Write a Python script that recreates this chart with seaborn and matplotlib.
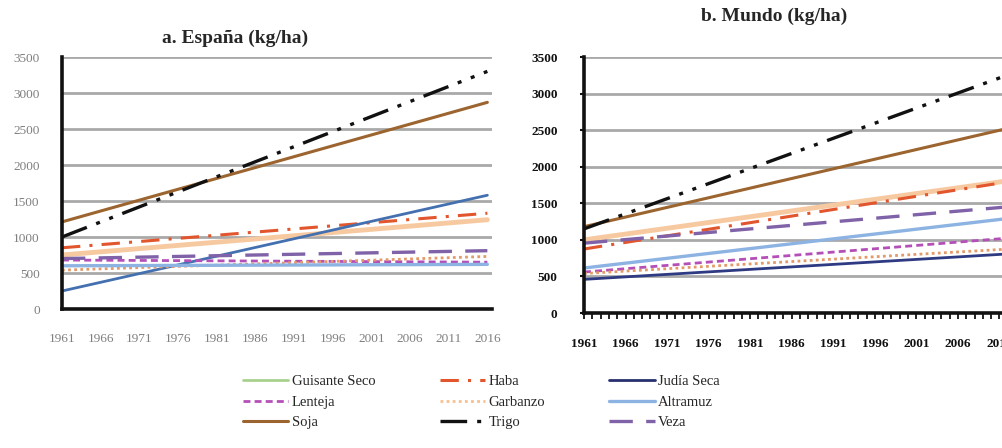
import matplotlib
matplotlib.use("Agg")
import matplotlib.pyplot as plt
from matplotlib.lines import Line2D
import seaborn as sns
import pandas as pd

# Trend endpoints (kg/ha) for each crop, first and last year of the period
years = [1961, 2016]
crops = ["Guisante Seco", "Haba", "Judía Seca", "Lenteja", "Garbanzo",
         "Altramuz", "Soja", "Trigo", "Veza"]
espana_1961 = [750, 850, 250, 680, 540, 600, 1210, 1000, 700]
espana_2016 = [1240, 1330, 1580, 650, 730, 620, 2870, 3300, 810]
mundo_1961 = [1000, 875, 460, 560, 540, 615, 1180, 1150, 955]
mundo_2016 = [1870, 1865, 835, 1060, 900, 1345, 2630, 3420, 1490]
tick_years = list(range(1961, 2017, 5))
y_ticks = [0, 500, 1000, 1500, 2000, 2500, 3000, 3500]

# line appearance per crop: plot colour, legend colour, dash pattern, width
line_color = {"Guisante Seco": "#f7c9a0", "Haba": "#e2562e", "Judía Seca": "#4470b0",
              "Lenteja": "#b44fb8", "Garbanzo": "#e39a68", "Altramuz": "#8db3e2",
              "Soja": "#9c6530", "Trigo": "#111111", "Veza": "#7f62a8"}
legend_color = dict(line_color, **{"Guisante Seco": "#a9d18e", "Judía Seca": "#27306e",
                                   "Garbanzo": "#f6c08f"})
mundo_color = dict(line_color, **{"Judía Seca": "#2e3a82"})
dash = {"Guisante Seco": "", "Haba": (6, 3, 1, 3), "Judía Seca": "",
        "Lenteja": (2.5, 1.5), "Garbanzo": (1, 1.2), "Altramuz": "",
        "Soja": "", "Trigo": (8, 3, 1.2, 3, 1.2, 3), "Veza": (7, 4)}
width = {"Guisante Seco": 3.5, "Haba": 2.2, "Judía Seca": 2.0, "Lenteja": 2.0,
         "Garbanzo": 2.0, "Altramuz": 2.4, "Soja": 2.2, "Trigo": 2.4, "Veza": 2.4}

sns.set_theme(style="white")
plt.rcParams["font.family"] = ["Liberation Serif", "DejaVu Serif"]

fig = plt.figure(figsize=(10.02, 4.48), dpi=100)
ax_es = fig.add_axes([62 / 1002, 1 - 309 / 448, (492 - 62) / 1002, (309 - 57) / 448])
ax_mu = fig.add_axes([584 / 1002, 1 - 313 / 448, (1046 - 584) / 1002, (313 - 57) / 448])


def draw(ax, start, end, colors, label_color, label_weight, with_ticks):
    rows = []
    for c, a, b in zip(crops, start, end):
        rows.append({"crop": c, "year": years[0], "yield": a})
        rows.append({"crop": c, "year": years[1], "yield": b})
    df = pd.DataFrame(rows)
    for c in crops:
        sub = df[df["crop"] == c]
        sns.lineplot(data=sub, x="year", y="yield", ax=ax, color=colors[c],
                     lw=width[c], legend=False,
                     linestyle="-" if not dash[c] else (0, dash[c]))
    ax.set_ylim(0, 3500)
    ax.set_xlim(1961, 2016.6)
    ax.set_yticks(y_ticks)
    ax.set_xticks(tick_years)
    ax.set_xticklabels([str(y) for y in tick_years])
    ax.set_xlabel("")
    ax.set_ylabel("")
    ax.yaxis.grid(True, color="#a9a9a9", lw=2.0)
    ax.set_axisbelow(True)
    for s in ["top", "right"]:
        ax.spines[s].set_visible(False)
    for s in ["left", "bottom"]:
        ax.spines[s].set_color("#111111")
        ax.spines[s].set_linewidth(2.6)
    ax.tick_params(axis="y", labelsize=9.5, colors=label_color, pad=16,
                   left=with_ticks, length=3 if with_ticks else 0, width=1.5)
    ax.tick_params(axis="x", labelsize=9.5, colors=label_color, pad=17,
                   length=0)
    for t in ax.get_xticklabels() + ax.get_yticklabels():
        t.set_fontweight(label_weight)
        t.set_color(label_color)
    if with_ticks:
        ax.set_xticks(range(1961, 2017), minor=True)
        ax.tick_params(axis="x", which="both", bottom=True, length=4, width=1.3,
                       color="#111111", direction="out", pad=14)
        ax.tick_params(axis="y", color="#111111")


draw(ax_es, espana_1961, espana_2016, line_color, "#7f7f7f", "normal", False)
draw(ax_mu, mundo_1961, mundo_2016, mundo_color, "#111111", "bold", True)

fig.text(235 / 1002, 1 - 38 / 448, "a. España (kg/ha)", ha="center", va="center",
         fontsize=14, fontweight="bold")
fig.text(774 / 1002, 1 - 16 / 448, "b. Mundo (kg/ha)", ha="center", va="center",
         fontsize=14, fontweight="bold")

# shared legend, three columns filled row by row
order = ["Guisante Seco", "Haba", "Judía Seca",
         "Lenteja", "Garbanzo", "Altramuz",
         "Soja", "Trigo", "Veza"]
col_major = [order[i] for i in (0, 3, 6, 1, 4, 7, 2, 5, 8)]
handles = [Line2D([0], [0], color=legend_color[c], lw=width[c] if c != "Guisante Seco" else 2.0,
                  linestyle="-" if not dash[c] else (0, dash[c])) for c in col_major]
fig.legend(handles, col_major, ncol=3, loc="upper left",
           bbox_to_anchor=(243 / 1002, 1 - 375 / 448), borderaxespad=0, borderpad=0,
           frameon=False, fontsize=10.5, handlelength=3.1, handletextpad=0.25,
           columnspacing=4.4, labelspacing=0.5)

fig.savefig("out.png", dpi=100)
